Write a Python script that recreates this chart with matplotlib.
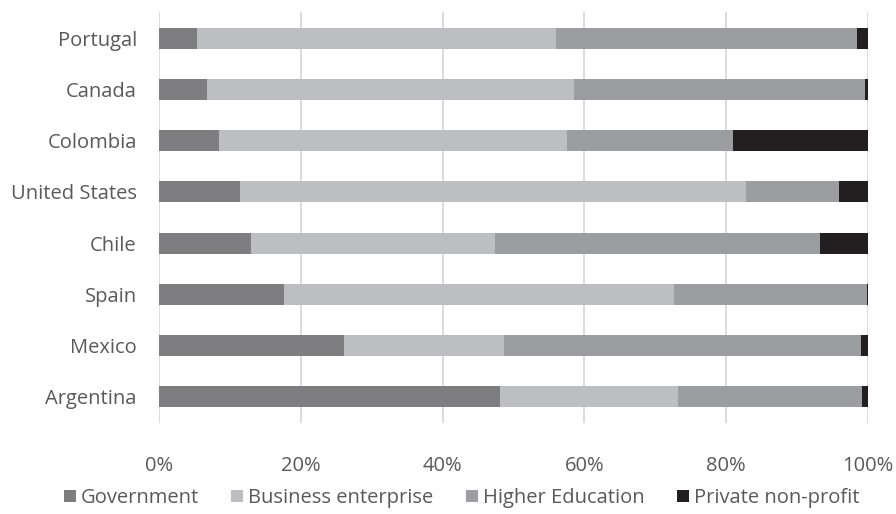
import matplotlib.pyplot as plt
import numpy as np

countries = ["Argentina", "Mexico", "Spain", "Chile", "United States",
             "Colombia", "Canada", "Portugal"]
government = [48.1, 26.1, 17.6, 13.0, 11.4, 8.4, 6.7, 5.4]
business = [25.1, 22.5, 55.1, 34.4, 71.4, 49.2, 51.8, 50.6]
higher_ed = [25.9, 50.4, 27.1, 45.8, 13.1, 23.3, 41.1, 42.4]
private_np = [0.9, 1.0, 0.2, 6.8, 4.1, 19.1, 0.4, 1.6]

series = [
    ("Government", government, "#7e7e81"),
    ("Business enterprise", business, "#bdbec1"),
    ("Higher Education", higher_ed, "#9c9da0"),
    ("Private non-profit", private_np, "#231f20"),
]

plt.rcParams['font.family'] = ['Open Sans', 'DejaVu Sans']

fig = plt.figure(figsize=(8.96, 5.14), dpi=100)
ax = fig.add_axes([0.1775, 0.1778, 0.7913, 0.798])

y = np.arange(len(countries))
left = np.zeros(len(countries))
for name, vals, col in series:
    vals = np.array(vals)
    ax.barh(y, vals, left=left, height=0.41, color=col, label=name, zorder=3)
    left += vals

ax.set_xlim(0, 100)
ax.set_ylim(-0.5, len(countries) - 0.5)
ax.set_yticks(y)
ax.set_yticklabels(countries)
ax.set_xticks(np.arange(0, 101, 20))
ax.set_xticklabels([f"{v}%" for v in range(0, 101, 20)])
ax.tick_params(axis='both', length=0, labelsize=14.5, colors='#595959')
ax.tick_params(axis='x', pad=24)
ax.tick_params(axis='y', pad=16)
ax.grid(axis='x', color='#d9d9d9', linewidth=1.3, zorder=0)
for s in ax.spines.values():
    s.set_visible(False)

handles, labels = ax.get_legend_handles_labels()
fig.legend(handles, labels, loc='center', bbox_to_anchor=(0.515, 0.031),
           ncol=4, frameon=False, fontsize=14.5, handlelength=0.6,
           handleheight=0.6, handletextpad=0.25, columnspacing=1.6,
           labelcolor='#595959')

fig.savefig("out.png", dpi=100)
